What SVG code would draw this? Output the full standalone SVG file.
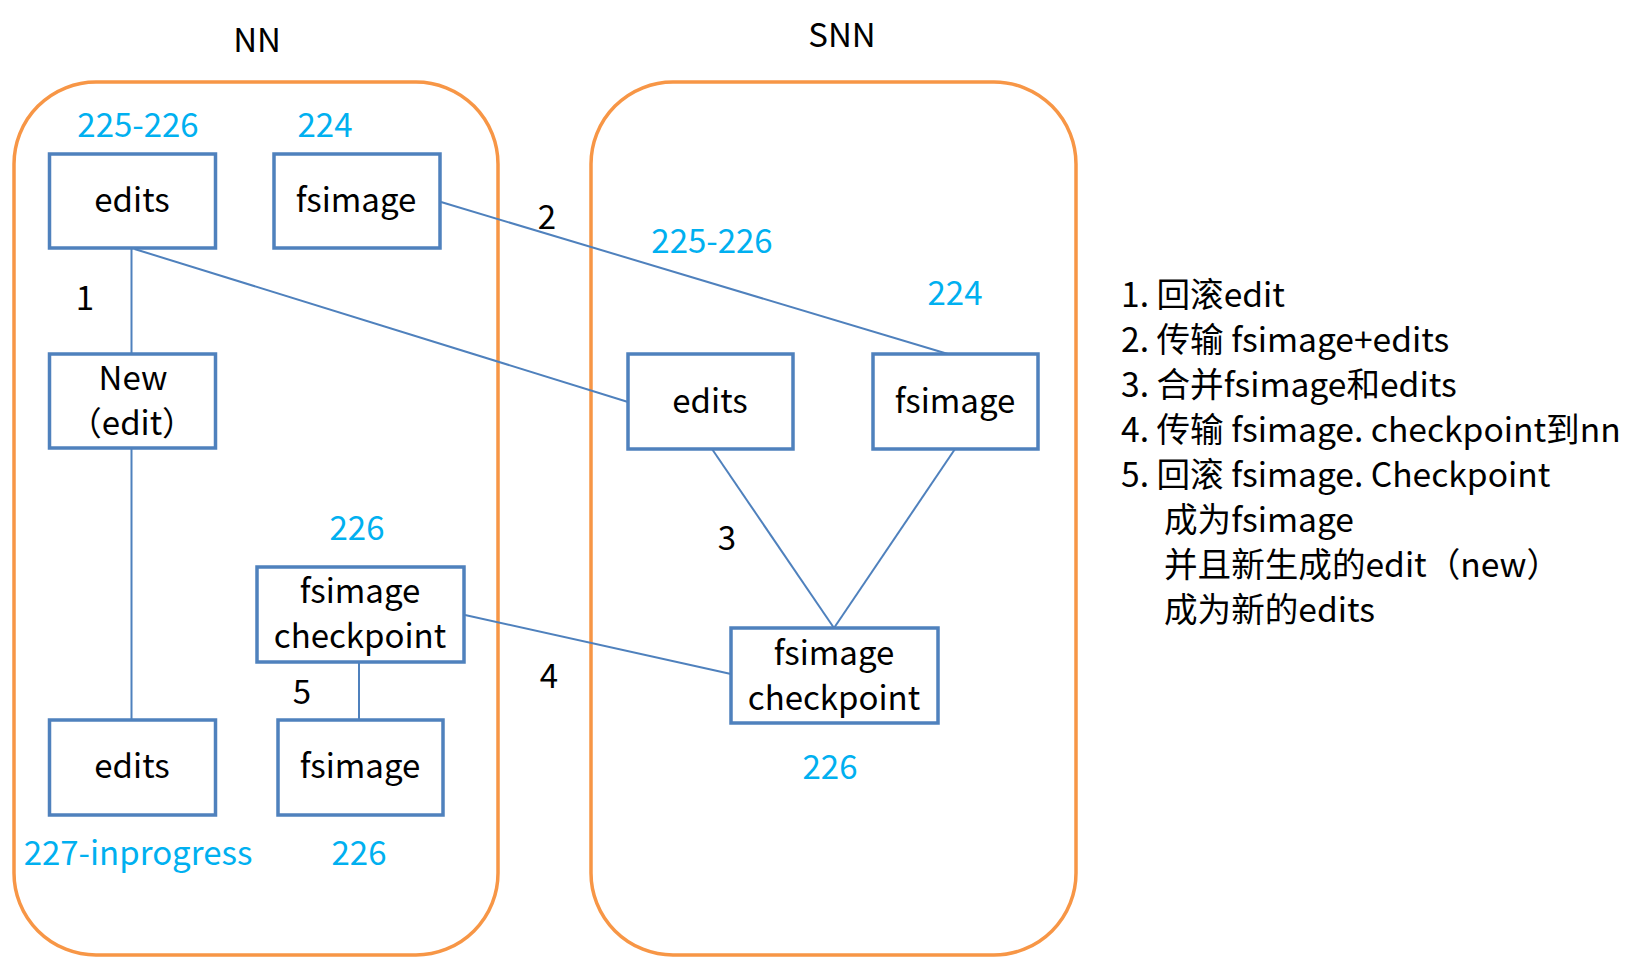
<svg xmlns="http://www.w3.org/2000/svg" width="1647" height="958" viewBox="0 0 1647 958">
<style>
text{font-family:"Noto Sans CJK SC","Noto Sans",sans-serif;font-size:33px;fill:#000}
.num{fill:#00B0F0}
.lg{font-size:33.6px}
.cont{fill:none;stroke:#F79646;stroke-width:3.5}
.box{fill:#fff;stroke:#4F81BD;stroke-width:3.5}
.ln{stroke:#4F81BD;stroke-width:2;fill:none}
.m{text-anchor:middle}
</style>
<rect width="1647" height="958" fill="#fff"/>
<g id="nn-container">
<rect class="cont" x="14" y="82" width="484" height="873" rx="82" ry="82"/>
<text class="m" x="257" y="52">NN</text>
</g>
<g id="snn-container">
<rect class="cont" x="591" y="82" width="485" height="873" rx="82" ry="82"/>
<text class="m" x="842" y="47">SNN</text>
</g>
<g id="connectors">
<line class="ln" x1="131.5" y1="248" x2="131.5" y2="354"/>
<line class="ln" x1="131.5" y1="448" x2="131.5" y2="720"/>
<line class="ln" x1="134.5" y1="249" x2="628" y2="402"/>
<line class="ln" x1="441" y1="202" x2="948" y2="354"/>
<line class="ln" x1="712" y1="449" x2="834" y2="628"/>
<line class="ln" x1="955" y1="449" x2="834" y2="628"/>
<line class="ln" x1="465" y1="615" x2="731" y2="674"/>
<line class="ln" x1="359" y1="662" x2="359" y2="720"/>
<text class="m" x="85" y="310">1</text>
<text class="m" x="547" y="229">2</text>
<text class="m" x="727" y="550">3</text>
<text class="m" x="549" y="688">4</text>
<text class="m" x="302" y="704">5</text>
</g>
<g id="nn-edits">
<rect class="box" x="49.5" y="154" width="166" height="94"/>
<text class="m" x="132" y="212">edits</text>
<text class="m num" x="138" y="137">225-226</text>
</g>
<g id="nn-fsimage">
<rect class="box" x="274" y="154" width="166" height="94"/>
<text class="m" x="356" y="212">fsimage</text>
<text class="m num" x="325" y="137">224</text>
</g>
<g id="nn-new">
<rect class="box" x="49.5" y="354" width="166" height="94"/>
<text class="m" x="133" y="390">New</text>
<text class="m" x="132" y="435">（edit）</text>
</g>
<g id="nn-checkpoint">
<rect class="box" x="257" y="567" width="207" height="95"/>
<text class="m" x="360" y="603">fsimage</text>
<text class="m" x="360" y="648">checkpoint</text>
<text class="m num" x="357" y="540">226</text>
</g>
<g id="nn-edits-new">
<rect class="box" x="49.5" y="720" width="166" height="95"/>
<text class="m" x="132" y="778">edits</text>
<text class="m num" x="138" y="865">227-inprogress</text>
</g>
<g id="nn-fsimage-new">
<rect class="box" x="278" y="720" width="165" height="95"/>
<text class="m" x="360" y="778">fsimage</text>
<text class="m num" x="359" y="865">226</text>
</g>
<g id="snn-edits">
<rect class="box" x="628" y="354" width="165" height="95"/>
<text class="m" x="710" y="413">edits</text>
<text class="m num" x="712" y="253">225-226</text>
</g>
<g id="snn-fsimage">
<rect class="box" x="873" y="354" width="165" height="95"/>
<text class="m" x="955" y="413">fsimage</text>
<text class="m num" x="955" y="305">224</text>
</g>
<g id="snn-checkpoint">
<rect class="box" x="731" y="628" width="207" height="95"/>
<text class="m" x="834" y="665">fsimage</text>
<text class="m" x="834" y="710">checkpoint</text>
<text class="m num" x="830" y="779">226</text>
</g>
<g id="legend">
<text class="lg" x="1121" y="307">1. 回滚edit</text>
<text class="lg" x="1121" y="352">2. 传输 fsimage+edits</text>
<text class="lg" x="1121" y="397">3. 合并fsimage和edits</text>
<text class="lg" x="1121" y="442">4. 传输 fsimage. checkpoint到nn</text>
<text class="lg" x="1121" y="487">5. 回滚 fsimage. Checkpoint</text>
<text class="lg" x="1164" y="532">成为fsimage</text>
<text class="lg" x="1164" y="577">并且新生成的edit（new）</text>
<text class="lg" x="1164" y="622">成为新的edits</text>
</g>
</svg>
